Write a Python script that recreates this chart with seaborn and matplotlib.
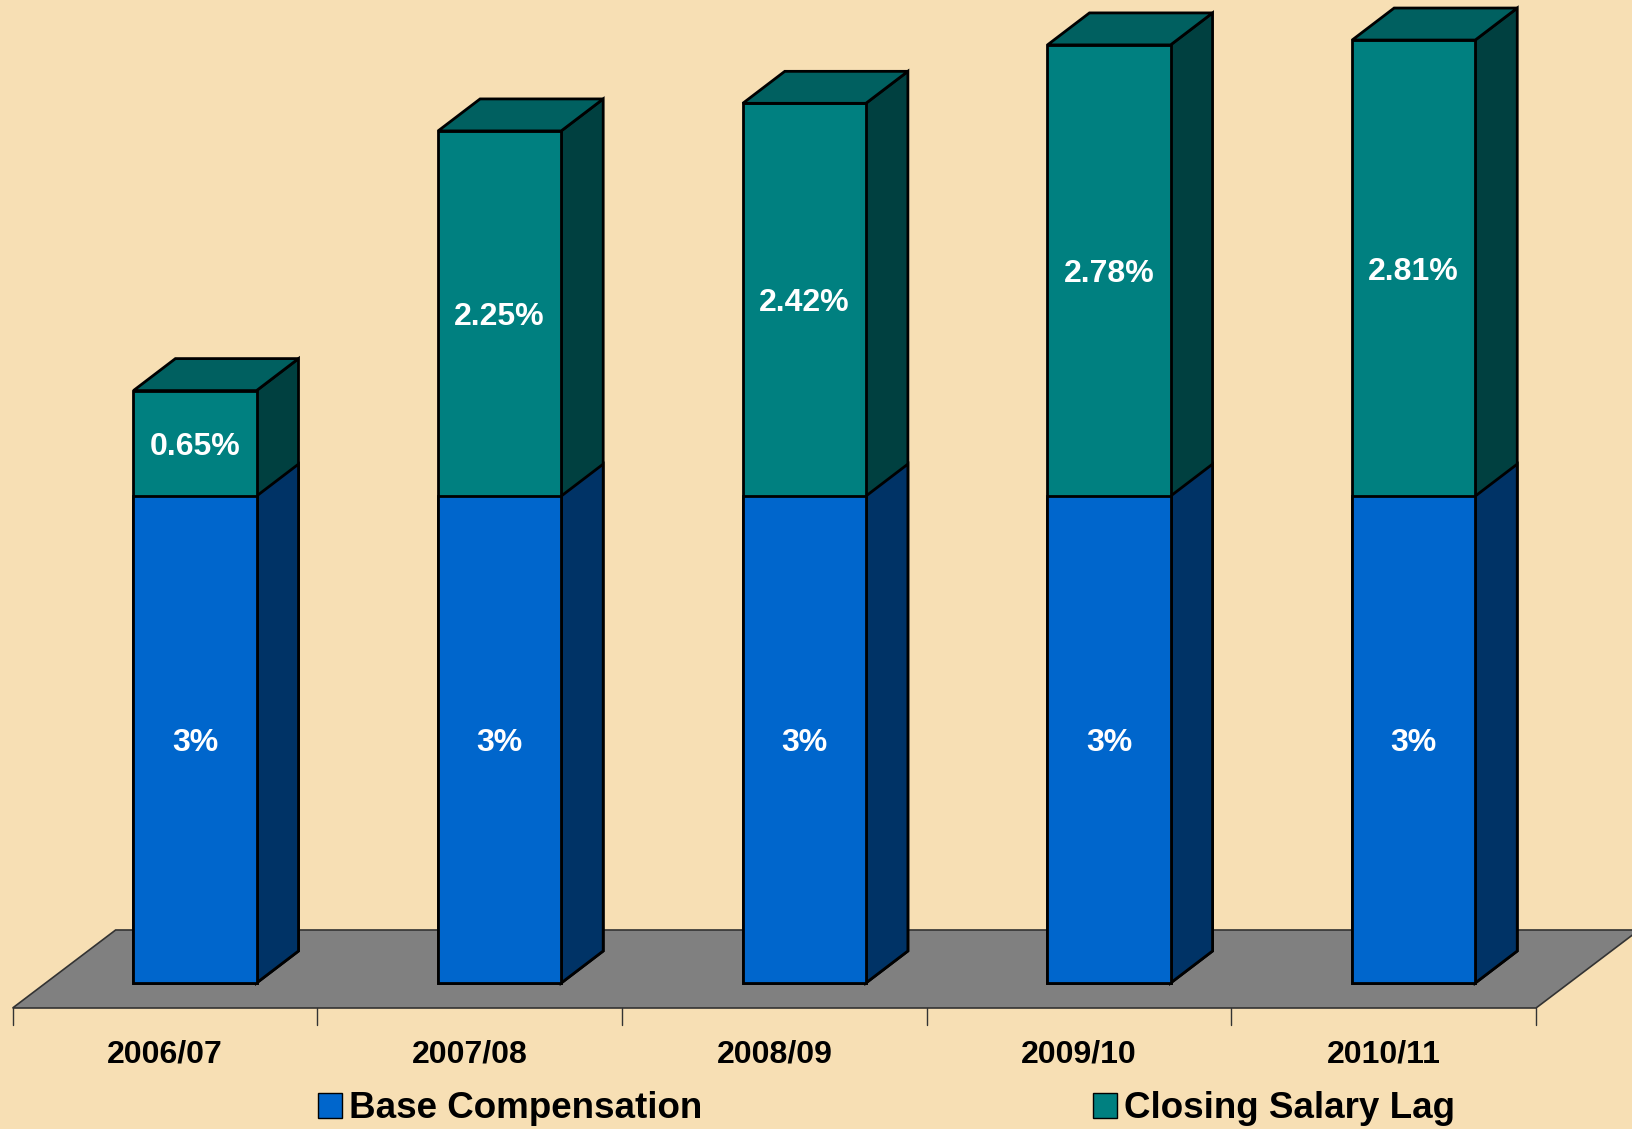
import seaborn as sns
import matplotlib.pyplot as plt
from matplotlib.patches import Polygon, Patch

years = ["2006/07", "2007/08", "2008/09", "2009/10", "2010/11"]
base_comp = [3, 3, 3, 3, 3]
salary_lag = [0.65, 2.25, 2.42, 2.78, 2.81]
series_names = ["Base Compensation", "Closing Salary Lag"]

bg = "#F7DFB4"
blue, blue_side = "#0066CC", "#003366"
teal, teal_top, teal_side = "#008080", "#006060", "#004040"
floor_col = "#808080"

totals = [b + l for b, l in zip(base_comp, salary_lag)]

sns.set_style("white", {"axes.facecolor": bg, "figure.facecolor": bg, "text.color": "black"})
plt.rcParams["font.family"] = ["Liberation Sans", "DejaVu Sans"]

fig = plt.figure(figsize=(16.33, 11.29), dpi=100)
ax = fig.add_axes([0.0261, 0.0, 0.9329, 1.0])

# stacked look: full height in teal first, then the base part in blue on top of it
sns.barplot(x=years, y=totals, color=teal, saturation=1, width=0.404,
            edgecolor="black", linewidth=2, ax=ax, zorder=3)
tot_bars = list(ax.patches)
sns.barplot(x=years, y=base_comp, color=blue, saturation=1, width=0.404,
            edgecolor="black", linewidth=2, ax=ax, zorder=4)
base_bars = list(ax.patches)[len(tot_bars):]

ax.set_xlim(-0.5, 4.5)
ax.set_ylim(-0.8996, 6.0567)
ax.axis("off")

# pixel -> data scale, used for the fake 3d depth
p0 = ax.transData.transform((0, 0))
p1 = ax.transData.transform((1, 1))
sx, sy = p1 - p0
dx, dy = 42 / sx, 32 / sy

# floor
fx, fy = -30 / sx, -25 / sy
bx, by = 73 / sx, 53 / sy
floor = Polygon([(-0.5 + fx, fy), (4.5 + fx, fy), (4.5 + bx, by), (-0.5 + bx, by)],
                closed=True, facecolor=floor_col, edgecolor="#333333", lw=1.2,
                zorder=1, clip_on=False)
ax.add_patch(floor)

def side(x1, y0, y1, color, z):
    pts = [(x1, y0), (x1 + dx, y0 + dy), (x1 + dx, y1 + dy), (x1, y1)]
    ax.add_patch(Polygon(pts, closed=True, facecolor=color, edgecolor="black",
                         lw=2, zorder=z, clip_on=False))

for bar in tot_bars:
    x0 = bar.get_x()
    x1 = x0 + bar.get_width()
    top = bar.get_height()
    ax.add_patch(Polygon([(x0, top), (x1, top), (x1 + dx, top + dy), (x0 + dx, top + dy)],
                         closed=True, facecolor=teal_top, edgecolor="black",
                         lw=2, zorder=3, clip_on=False))
    side(x1, 0, top, teal_side, 2.5)

for bar in base_bars:
    x1 = bar.get_x() + bar.get_width()
    side(x1, 0, bar.get_height(), blue_side, 2.6)

# value labels
for bar, b, l in zip(base_bars, base_comp, salary_lag):
    cx = bar.get_x() + bar.get_width() / 2
    ax.text(cx, b / 2, f"{b:g}%", ha="center", va="center_baseline", color="white",
            fontsize=23, fontweight="bold", zorder=6)
    ax.text(cx, b + l / 2, f"{l:g}%", ha="center", va="center_baseline", color="white",
            fontsize=23, fontweight="bold", zorder=6)

# category axis along the front edge of the floor
for k in range(len(years) + 1):
    xk = -0.5 + k + fx
    ax.plot([xk, xk], [fy, fy - 17 / sy], color="#333333", lw=1, clip_on=False, zorder=1)
for i, yr in enumerate(years):
    ax.text(i + fx, fy - 43 / sy, yr, ha="center", va="center_baseline", color="black",
            fontsize=23, fontweight="bold")

handles = [Patch(facecolor=blue, edgecolor="black"), Patch(facecolor=teal, edgecolor="black")]
fig.legend(handles, series_names, loc="center left",
           bbox_to_anchor=(318 / 1633, 1 - 1109 / 1129), ncol=2, frameon=False,
           prop={"weight": "bold", "size": 26.5}, labelcolor="black",
           handlelength=0.65, handleheight=0.65,
           handletextpad=0.2, columnspacing=10.6, borderpad=0, borderaxespad=0)

fig.savefig("out.png", dpi=100, facecolor=bg)
